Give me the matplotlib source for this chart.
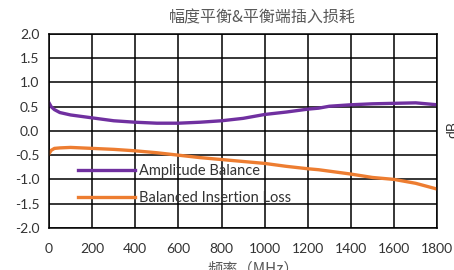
import matplotlib

matplotlib.use("Agg")
import matplotlib.pyplot as plt
import numpy as np

# frequency points (MHz) and the two traces (dB)
freq = [0, 10, 25, 50, 100, 200, 300, 400, 500, 600, 700, 800, 900,
        1000, 1100, 1200, 1250, 1300, 1400, 1500, 1600, 1700, 1800]
amp_balance = [0.58, 0.50, 0.44, 0.38, 0.33, 0.27, 0.21, 0.18, 0.16, 0.16,
               0.18, 0.21, 0.26, 0.34, 0.39, 0.45, 0.47, 0.51, 0.54, 0.56,
               0.57, 0.58, 0.54]
ins_loss = [-0.47, -0.40, -0.36, -0.35, -0.34, -0.36, -0.38, -0.41, -0.45,
            -0.50, -0.55, -0.59, -0.63, -0.67, -0.73, -0.78, -0.80, -0.83,
            -0.89, -0.96, -1.00, -1.08, -1.20]
xticks = np.arange(0, 1801, 200)
yticks = np.arange(-2.0, 2.01, 0.5)

TXT = "#333333"
LATIN = ["Lato", "DejaVu Sans"]
CJK = ["Noto Sans CJK SC", "DejaVu Sans"]

fig = plt.figure(figsize=(4.54, 2.70), dpi=100)
ax = fig.add_axes([0.108, 0.156, 0.855, 0.718])

ax.plot(freq, amp_balance, color="#7030A0", lw=2.4, label="Amplitude Balance")
ax.plot(freq, ins_loss, color="#ED7D31", lw=2.4, label="Balanced Insertion Loss")

ax.set_xlim(0, 1800)
ax.set_ylim(-2.0, 2.0)
ax.set_xticks(xticks)
ax.set_yticks(yticks)
ax.set_yticklabels([f"{v:.1f}" for v in yticks])
ax.grid(True, color="black", lw=1.1)
ax.set_axisbelow(True)
for s in ax.spines.values():
    s.set_color("black")
    s.set_linewidth(1.1)
ax.tick_params(axis="both", length=0, labelsize=10, labelcolor=TXT)
ax.tick_params(axis="y", pad=7)
ax.tick_params(axis="x", pad=11)
for lab in ax.get_xticklabels() + ax.get_yticklabels():
    lab.set_family(LATIN)

leg = ax.legend(loc="upper left", bbox_to_anchor=(0.075, 0.33), frameon=False,
                borderpad=0, borderaxespad=0, handlelength=3.9,
                handletextpad=0.28, labelspacing=0.88,
                prop={"family": LATIN, "size": 10.5})
for t in leg.get_texts():
    t.set_color(TXT)

fig.text(0.577, 0.932, "幅度平衡&平衡端插入损耗", ha="center", va="center",
         fontsize=11.5, color="#595959", family=CJK)
fig.text(0.557, 0.005, "频率（MHz）", ha="center", va="center",
         fontsize=11, color="#595959", family=CJK)
fig.text(0.983, 0.52, "dB", ha="left", va="center", rotation=90,
         fontsize=10, color=TXT, family=LATIN)

fig.savefig("out.png", dpi=100)
